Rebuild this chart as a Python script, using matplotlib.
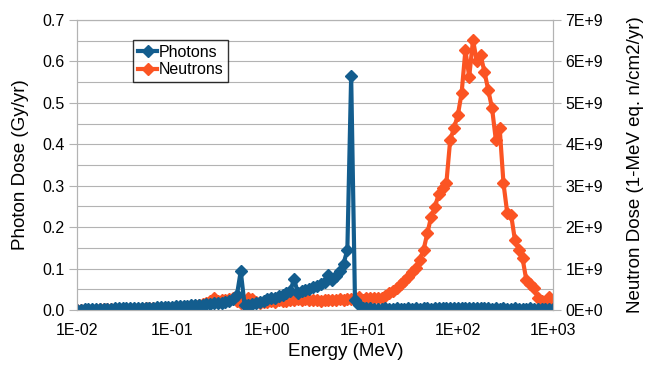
import numpy as np
import matplotlib
matplotlib.use('Agg')
import matplotlib.pyplot as plt
from matplotlib.ticker import FuncFormatter, MultipleLocator, LogLocator

plt.rcParams['font.family'] = ['Liberation Sans', 'DejaVu Sans']

# energy bins, 25 per decade from 1E-02 to 1E+03 MeV
energy = np.logspace(-2, 3, 126)

# photon dose (Gy/yr)
photons = [
    0.001, 0.001, 0.002, 0.002, 0.002, 0.002, 0.003, 0.003, 0.003, 0.003,
    0.004, 0.004, 0.004, 0.004, 0.005, 0.005, 0.005, 0.005, 0.006, 0.006,
    0.006, 0.007, 0.007, 0.007, 0.008, 0.008, 0.009, 0.009, 0.010, 0.010,
    0.011, 0.012, 0.012, 0.013, 0.014, 0.015, 0.016, 0.017, 0.018, 0.020,
    0.022, 0.027, 0.036, 0.094, 0.013, 0.012, 0.014, 0.016, 0.020, 0.022,
    0.026, 0.028, 0.030, 0.033, 0.036, 0.040, 0.046, 0.074, 0.042, 0.045,
    0.048, 0.051, 0.055, 0.058, 0.062, 0.067, 0.084, 0.072, 0.082, 0.095,
    0.112, 0.145, 0.565, 0.025, 0.012, 0.006, 0.004, 0.004, 0.003, 0.003,
    0.003, 0.004, 0.003, 0.003, 0.004, 0.003, 0.003, 0.004, 0.003, 0.004,
    0.003, 0.004, 0.004, 0.003, 0.004, 0.005, 0.004, 0.004, 0.005, 0.004,
    0.005, 0.006, 0.005, 0.006, 0.005, 0.004, 0.005, 0.004, 0.004, 0.003,
    0.004, 0.003, 0.004, 0.003, 0.003, 0.004, 0.003, 0.003, 0.003, 0.004,
    0.003, 0.003, 0.003, 0.003, 0.003, 0.003,
]

# neutron dose (1-MeV eq. n/cm2/yr), in units of 1E+9
neutrons = [
    0.00, 0.00, 0.01, 0.01, 0.01, 0.01, 0.02, 0.02, 0.02, 0.02,
    0.02, 0.02, 0.03, 0.03, 0.03, 0.03, 0.03, 0.03, 0.04, 0.04,
    0.04, 0.05, 0.05, 0.05, 0.05, 0.06, 0.06, 0.07, 0.08, 0.08,
    0.09, 0.10, 0.12, 0.14, 0.17, 0.22, 0.28, 0.21, 0.23, 0.25,
    0.26, 0.29, 0.22, 0.18, 0.20, 0.30, 0.26, 0.20, 0.18, 0.19,
    0.20, 0.22, 0.20, 0.24, 0.22, 0.21, 0.23, 0.25, 0.27, 0.24,
    0.26, 0.24, 0.23, 0.25, 0.22, 0.24, 0.23, 0.25, 0.24, 0.26,
    0.25, 0.27, 0.26, 0.28, 0.32, 0.25, 0.28, 0.30, 0.28, 0.30,
    0.30, 0.34, 0.40, 0.46, 0.52, 0.62, 0.70, 0.80, 0.92, 1.02,
    1.21, 1.45, 1.85, 2.25, 2.49, 2.80, 2.94, 3.06, 4.10, 4.39,
    4.70, 5.23, 6.27, 5.63, 6.52, 6.00, 6.15, 5.75, 5.31, 4.87,
    4.10, 4.39, 3.06, 2.33, 2.30, 1.69, 1.45, 1.25, 0.72, 0.62,
    0.52, 0.28, 0.22, 0.16, 0.32, 0.12,
]

blue = '#135d8e'
orange = '#fb5423'
grey = '#b3b3b3'

fig = plt.figure(figsize=(6.58, 3.77), dpi=100)
ax1 = fig.add_axes([0.1170, 0.1777, 0.7234, 0.7692])
ax2 = ax1.twinx()

# grid + neutrons underneath, photons on top
ax1.set_zorder(ax2.get_zorder() + 1)
ax1.patch.set_visible(False)

ax2.plot(energy, np.array(neutrons) * 1e9, color=orange, lw=3,
         marker='D', ms=6.3, mec=orange, label='Neutrons')
ax1.plot(energy, photons, color=blue, lw=3, marker='D', ms=6.3,
         mec=blue, label='Photons')

ax1.set_xscale('log')
ax1.set_xlim(1e-2, 1e3)
ax1.set_ylim(0, 0.7)
ax2.set_ylim(0, 7e9)

ax1.yaxis.set_major_locator(MultipleLocator(0.1))
ax1.yaxis.set_major_formatter(FuncFormatter(lambda v, p: '%.1f' % v))
ax2.yaxis.set_major_locator(MultipleLocator(1e9))
ax2.yaxis.set_minor_locator(MultipleLocator(0.5e9))
ax2.yaxis.set_major_formatter(FuncFormatter(lambda v, p: '%dE+9' % round(v / 1e9) if v > 0 else '0E+0'))
ax1.xaxis.set_major_locator(LogLocator(base=10, numticks=10))
ax1.xaxis.set_major_formatter(FuncFormatter(lambda v, p: '1E%+03d' % round(np.log10(v))))
ax1.xaxis.set_minor_locator(LogLocator(base=10, subs=np.arange(2, 10), numticks=20))

ax2.grid(True, which='both', axis='both', color=grey, lw=0.8)
ax2.set_axisbelow(True)

for ax in (ax1, ax2):
    for s in ax.spines.values():
        s.set_color(grey)
        s.set_linewidth(0.8)
    ax.tick_params(which='both', color=grey, labelsize=11.5, labelcolor='black')
    ax.tick_params(which='minor', length=0)
ax1.tick_params(axis='x', which='major', length=0, pad=9)
ax1.tick_params(axis='y', length=6, pad=3)
ax2.tick_params(axis='y', length=6, pad=3)

ax1.set_xlabel('Energy (MeV)', fontsize=13.5)
ax1.set_ylabel('Photon Dose (Gy/yr)', fontsize=13.5)
ax2.set_ylabel('Neutron Dose (1-MeV eq. n/cm2/yr)', fontsize=13.5)
ax1.xaxis.set_label_coords(0.565, -0.115)
ax1.yaxis.set_label_coords(-0.10, 0.5)
ax2.yaxis.set_label_coords(1.155, 0.5)

h1, l1 = ax1.get_legend_handles_labels()
h2, l2 = ax2.get_legend_handles_labels()
leg = ax1.legend(h1 + h2, l1 + l2, loc='upper left', bbox_to_anchor=(0.118, 0.931),
                 borderaxespad=0, fontsize=11.5, fancybox=False, frameon=True,
                 handlelength=1.2, handletextpad=0.1, borderpad=0.3, labelspacing=0.15)
leg.get_frame().set_edgecolor('black')
leg.get_frame().set_linewidth(1.0)

fig.savefig('out.png', dpi=100)
